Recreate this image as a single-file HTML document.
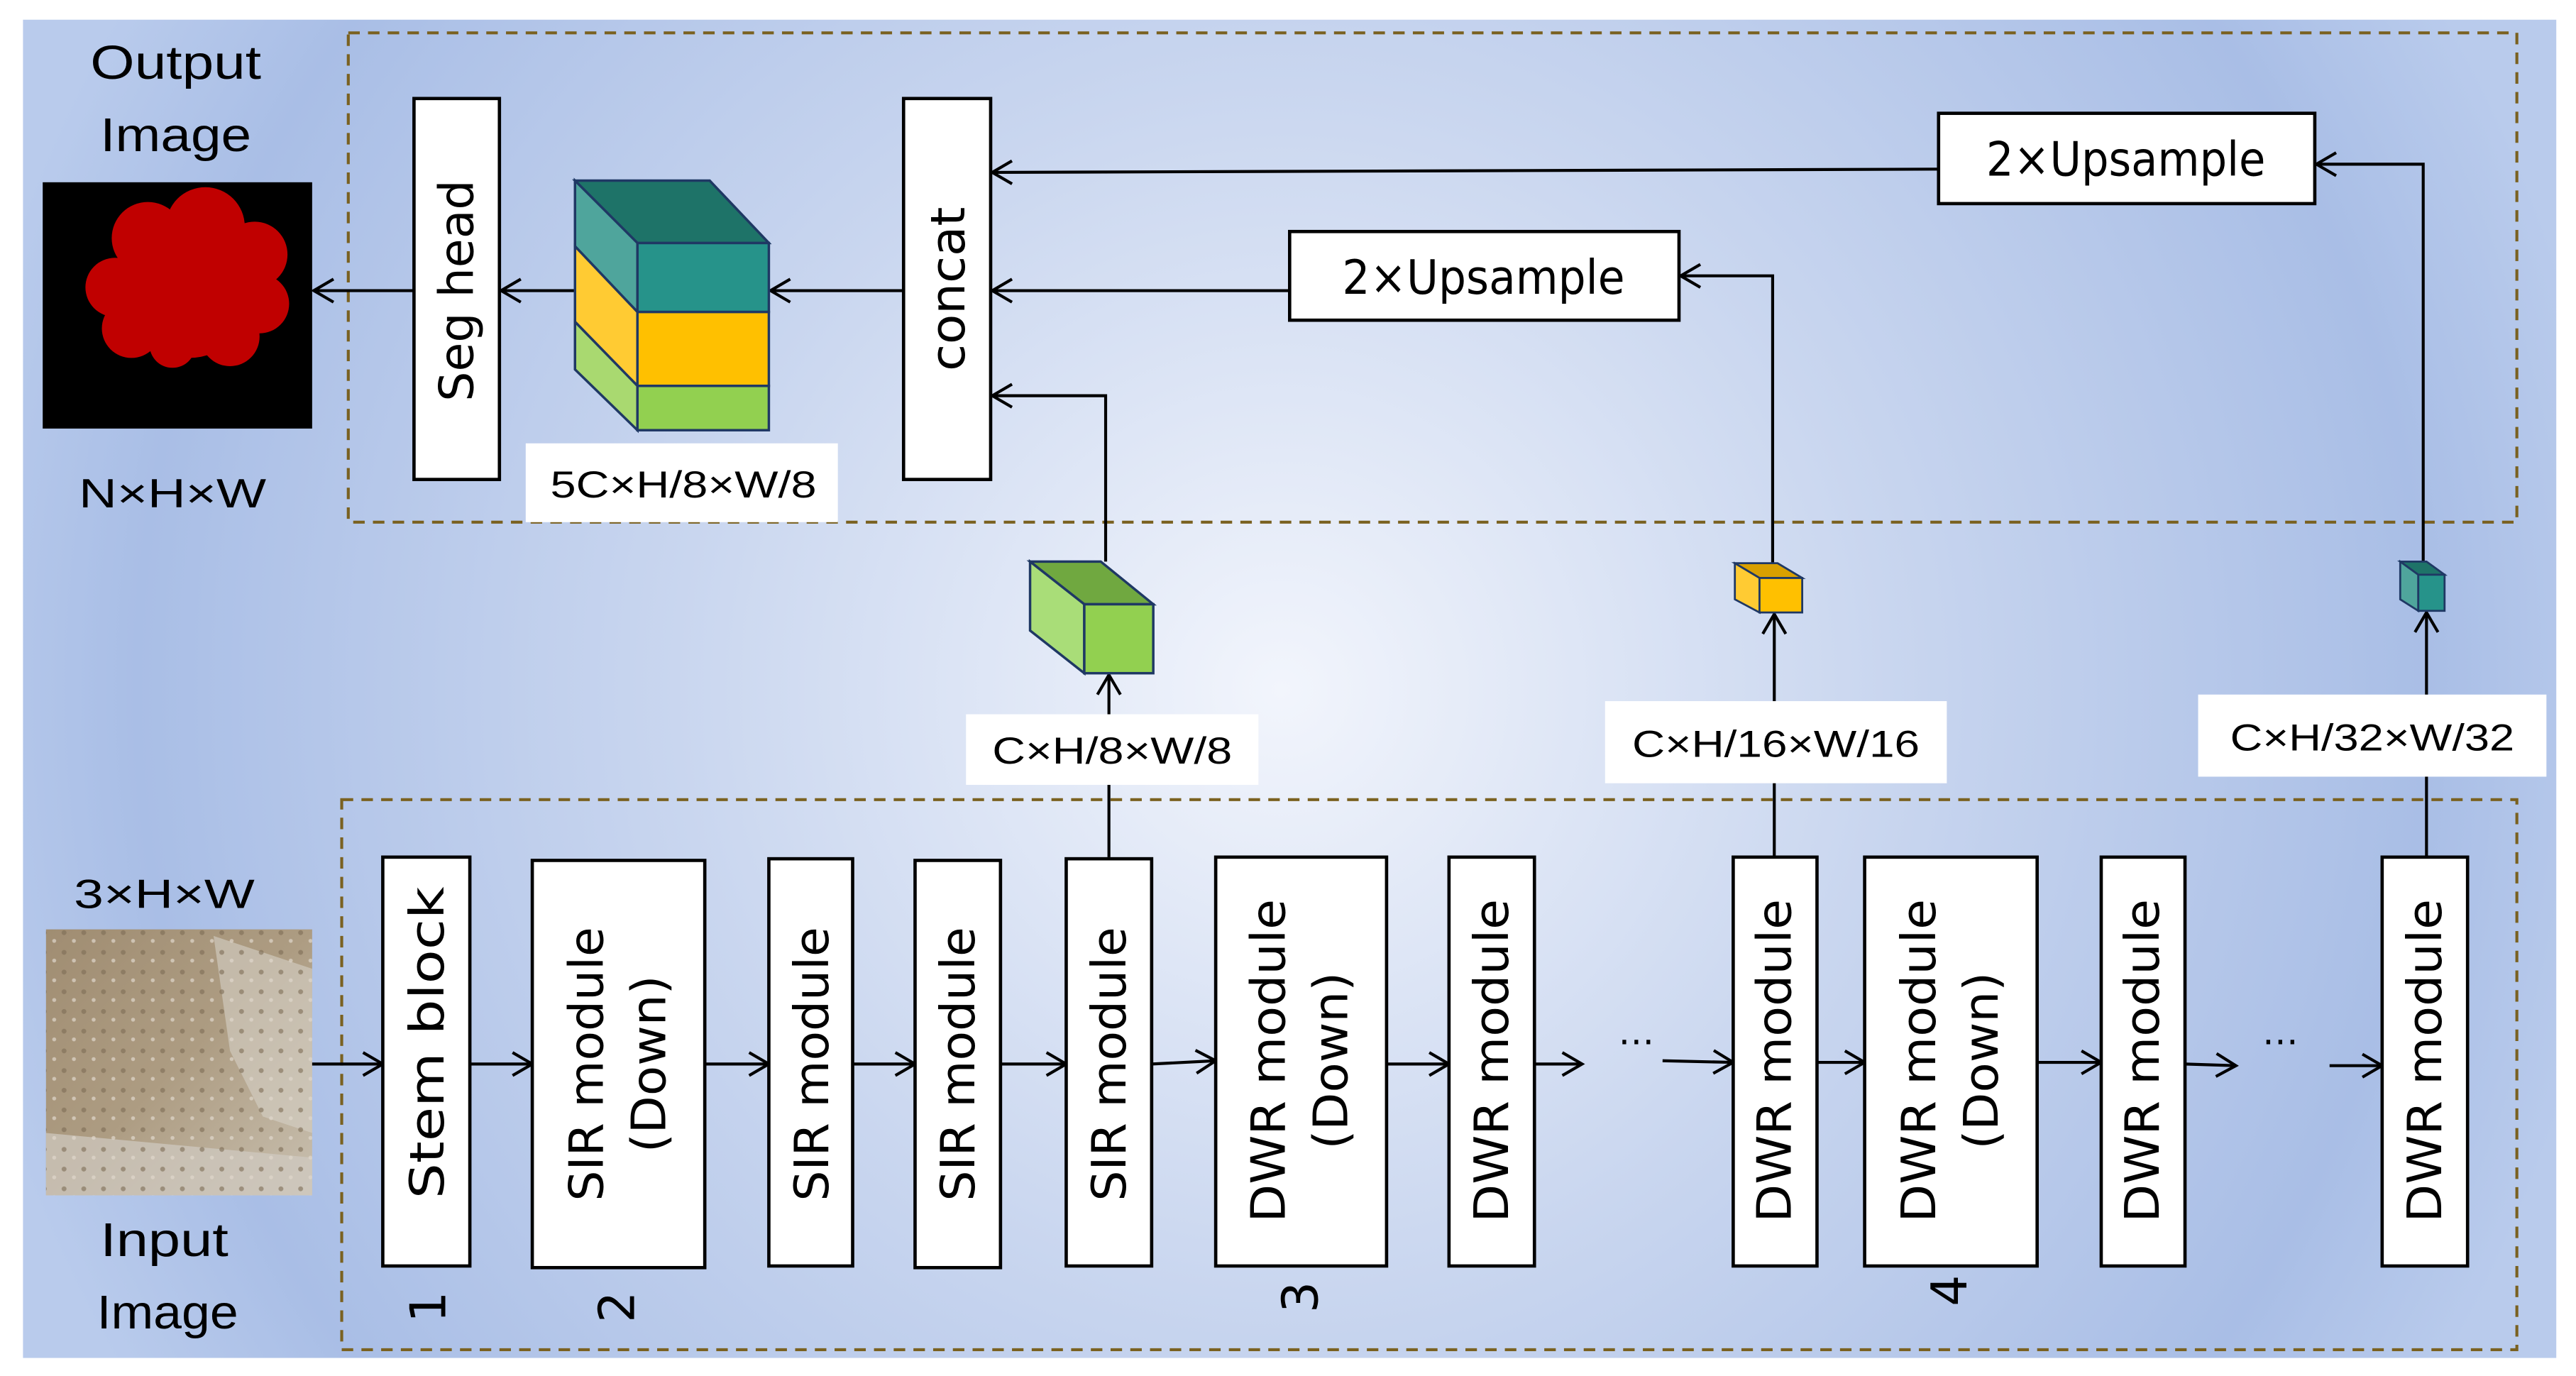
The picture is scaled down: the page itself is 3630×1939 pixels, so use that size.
<!DOCTYPE html>
<html><head><meta charset="utf-8"><style>html,body{margin:0;padding:0;background:#fff}svg{display:block}</style></head>
<body>
<svg width="3630" height="1939" viewBox="0 0 1568 838" preserveAspectRatio="none" xmlns="http://www.w3.org/2000/svg">
<defs>
<radialGradient id="bg" cx="780" cy="420" r="820" gradientUnits="userSpaceOnUse">
<stop offset="0" stop-color="#f2f5fc"/><stop offset="0.45" stop-color="#c9d6ef"/><stop offset="0.85" stop-color="#a9bee6"/><stop offset="1" stop-color="#b9cbec"/></radialGradient>
<marker id="ar" markerWidth="16" markerHeight="16" refX="14" refY="8" orient="auto" markerUnits="userSpaceOnUse">
<polyline points="2,1 14,8 2,15" fill="none" stroke="#000" stroke-width="1.8"/></marker>
<linearGradient id="road" x1="0" y1="0" x2="1" y2="1"><stop offset="0" stop-color="#a08d72"/><stop offset="0.5" stop-color="#ad9c82"/><stop offset="1" stop-color="#c9c0b0"/></linearGradient>
<pattern id="spk" width="12" height="12" patternUnits="userSpaceOnUse"><circle cx="3" cy="4" r="1.5" fill="#7d6c55" opacity="0.6"/><circle cx="9" cy="9" r="1.2" fill="#e0d8cc" opacity="0.7"/></pattern>
</defs>
<rect x="0" y="0" width="1568" height="838" fill="#fff"/>
<rect x="14" y="12" width="1542" height="815" fill="url(#bg)"/>
<g fill="none" stroke="#7a6120" stroke-width="1.8" stroke-dasharray="7,5">
<rect x="212" y="20" width="1320" height="298"/>
<rect x="208" y="487" width="1324" height="335"/>
</g>
<g font-family="Liberation Sans, sans-serif" fill="#000" text-anchor="middle">
<text x="107" y="48" font-size="29" textLength="104" lengthAdjust="spacingAndGlyphs">Output</text>
<text x="107" y="92" font-size="29" textLength="92" lengthAdjust="spacingAndGlyphs">Image</text>
<text x="105" y="309" font-size="25" textLength="114" lengthAdjust="spacingAndGlyphs">N×H×W</text>
<text x="100" y="553" font-size="25" textLength="110" lengthAdjust="spacingAndGlyphs">3×H×W</text>
<text x="100" y="765" font-size="29" textLength="78" lengthAdjust="spacingAndGlyphs">Input</text>
<text x="102" y="809" font-size="29" textLength="86" lengthAdjust="spacingAndGlyphs">Image</text>
</g>
<rect x="26" y="111" width="164" height="150" fill="#000"/>
<g fill="#c00000">
<circle cx="90" cy="145" r="22"/><circle cx="125" cy="138" r="24"/><circle cx="155" cy="155" r="20"/><circle cx="70" cy="175" r="18"/><circle cx="158" cy="185" r="18"/><circle cx="80" cy="200" r="18"/><circle cx="115" cy="180" r="38"/><circle cx="140" cy="205" r="18"/><circle cx="105" cy="210" r="14"/><polygon points="100,210 112,222 108,210"/></g>
<rect x="28" y="566" width="162" height="162" fill="url(#road)"/>
<path d="M130 570 L190 590 L190 690 L160 680 L140 640 Z" fill="#d6d0c6" opacity="0.6"/>
<path d="M28 690 L190 705 L190 728 L28 728 Z" fill="#d0cbc2" opacity="0.7"/>
<rect x="28" y="566" width="162" height="162" fill="url(#spk)"/>
<g fill="none" stroke="#000" stroke-width="1.8" marker-end="url(#ar)">
<line x1="550" y1="177" x2="469" y2="177"/>
<line x1="350" y1="177" x2="305" y2="177"/>
<line x1="252" y1="177" x2="191" y2="177"/>
<line x1="1180" y1="103" x2="604" y2="105"/>
<line x1="785" y1="177" x2="604" y2="177"/>
<polyline points="1475,342 1475,100 1410,100"/>
<polyline points="1079,343 1079,168 1023,168"/>
<polyline points="673,342 673,241 604,241"/>
<line x1="675" y1="522" x2="675" y2="411"/>
<line x1="1080" y1="522" x2="1080" y2="374"/>
<line x1="1477" y1="522" x2="1477" y2="373"/>
<line x1="190" y1="648" x2="233" y2="648"/>
<line x1="286" y1="648" x2="324" y2="648"/>
<line x1="429" y1="648" x2="468" y2="648"/>
<line x1="519" y1="648" x2="557" y2="648"/>
<line x1="609" y1="648" x2="649" y2="648"/>
<line x1="701" y1="648" x2="740" y2="646"/>
<line x1="844" y1="648" x2="882" y2="648"/>
<line x1="934" y1="648" x2="963" y2="648"/>
<line x1="1012" y1="646" x2="1055" y2="647"/>
<line x1="1106" y1="647" x2="1135" y2="647"/>
<line x1="1240" y1="647" x2="1279" y2="647"/>
<line x1="1330" y1="648" x2="1361" y2="649"/>
<line x1="1418" y1="649" x2="1450" y2="649"/>
</g>
<g fill="#fff" stroke="#000" stroke-width="2">
<rect x="252" y="60" width="52" height="232"/>
<rect x="550" y="60" width="53" height="232"/>
<rect x="1180" y="69" width="229" height="55"/>
<rect x="785" y="141" width="237" height="54"/>
<rect x="233" y="522" width="53" height="249"/>
<rect x="324" y="524" width="105" height="248"/>
<rect x="468" y="523" width="51" height="248"/>
<rect x="557" y="524" width="52" height="248"/>
<rect x="649" y="523" width="52" height="248"/>
<rect x="740" y="522" width="104" height="249"/>
<rect x="882" y="522" width="52" height="249"/>
<rect x="1055" y="522" width="51" height="249"/>
<rect x="1135" y="522" width="105" height="249"/>
<rect x="1279" y="522" width="51" height="249"/>
<rect x="1450" y="522" width="52" height="249"/>
</g>
<g fill="#fff"><rect x="320" y="270" width="190" height="48"/><rect x="588" y="435" width="178" height="43"/><rect x="977" y="427" width="208" height="50"/><rect x="1338" y="423" width="212" height="50"/></g>
<g font-family="Liberation Sans, sans-serif" font-size="23" text-anchor="middle" fill="#000" lengthAdjust="spacingAndGlyphs">
<text x="416" y="303" textLength="162" lengthAdjust="spacingAndGlyphs">5C×H/8×W/8</text>
<text x="677" y="465" textLength="146" lengthAdjust="spacingAndGlyphs">C×H/8×W/8</text>
<text x="1081" y="461" textLength="175" lengthAdjust="spacingAndGlyphs">C×H/16×W/16</text>
<text x="1444" y="457" textLength="173" lengthAdjust="spacingAndGlyphs">C×H/32×W/32</text>
</g>
<g font-family="DejaVu Sans, sans-serif" font-size="29" text-anchor="middle" fill="#000">
<text x="1294" y="107" textLength="170" lengthAdjust="spacingAndGlyphs">2×Upsample</text>
<text x="903" y="179" textLength="172" lengthAdjust="spacingAndGlyphs">2×Upsample</text>
<text transform="translate(288,177) rotate(-90)" textLength="135" lengthAdjust="spacingAndGlyphs">Seg head</text>
<text transform="translate(587,176) rotate(-90)" textLength="100" lengthAdjust="spacingAndGlyphs">concat</text>
<text transform="translate(270,635) rotate(-90)" textLength="190" lengthAdjust="spacingAndGlyphs">Stem block</text>
<text transform="translate(367,648) rotate(-90)" textLength="167" lengthAdjust="spacingAndGlyphs">SIR module</text>
<text transform="translate(405,648) rotate(-90)" textLength="108" lengthAdjust="spacingAndGlyphs">(Down)</text>
<text transform="translate(504,648) rotate(-90)" textLength="167" lengthAdjust="spacingAndGlyphs">SIR module</text>
<text transform="translate(593,648) rotate(-90)" textLength="167" lengthAdjust="spacingAndGlyphs">SIR module</text>
<text transform="translate(685,648) rotate(-90)" textLength="167" lengthAdjust="spacingAndGlyphs">SIR module</text>
<text transform="translate(782,646) rotate(-90)" textLength="197" lengthAdjust="spacingAndGlyphs">DWR module</text>
<text transform="translate(820,646) rotate(-90)" textLength="108" lengthAdjust="spacingAndGlyphs">(Down)</text>
<text transform="translate(918,646) rotate(-90)" textLength="197" lengthAdjust="spacingAndGlyphs">DWR module</text>
<text transform="translate(1090,646) rotate(-90)" textLength="197" lengthAdjust="spacingAndGlyphs">DWR module</text>
<text transform="translate(1178,646) rotate(-90)" textLength="197" lengthAdjust="spacingAndGlyphs">DWR module</text>
<text transform="translate(1216,646) rotate(-90)" textLength="108" lengthAdjust="spacingAndGlyphs">(Down)</text>
<text transform="translate(1314,646) rotate(-90)" textLength="197" lengthAdjust="spacingAndGlyphs">DWR module</text>
<text transform="translate(1486,646) rotate(-90)" textLength="197" lengthAdjust="spacingAndGlyphs">DWR module</text>
<text transform="translate(271,796) rotate(-90)" font-size="30">1</text>
<text transform="translate(386,796) rotate(-90)" font-size="30">2</text>
<text transform="translate(802,790) rotate(-90)" font-size="30">3</text>
<text transform="translate(1197,786) rotate(-90)" font-size="30">4</text>
<text x="996" y="636" font-size="22">…</text>
<text x="1388" y="636" font-size="22">…</text>
</g>
<g stroke="#1f3864" stroke-width="1.5">
<polygon points="350,110 432,110 468,148 388,148" fill="#1e7368"/>
<polygon points="350,110 388,148 388,190 350,150" fill="#4fa59c"/>
<rect x="388" y="148" width="80" height="42" fill="#26938a"/>
<polygon points="350,150 388,190 388,235 350,196" fill="#ffcb33"/>
<rect x="388" y="190" width="80" height="45" fill="#ffc000"/>
<polygon points="350,196 388,235 388,262 350,225" fill="#a9d970"/>
<rect x="388" y="235" width="80" height="27" fill="#92d050"/>
</g>
<g stroke="#1f3864" stroke-width="1.5">
<polygon points="627,342 670,342 702,368 660,368" fill="#70a840"/>
<polygon points="627,342 660,368 660,410 627,384" fill="#a9dd78"/>
<rect x="660" y="368" width="42" height="42" fill="#92d050"/>
</g>
<g stroke="#1f3864" stroke-width="1.2">
<polygon points="1056,343 1082,343 1097,352 1071,352" fill="#d9a000"/>
<polygon points="1056,343 1071,352 1071,373 1056,365" fill="#ffcb33"/>
<rect x="1071" y="352" width="26" height="21" fill="#ffc000"/>
</g>
<g stroke="#1f3864" stroke-width="1.2">
<polygon points="1461,342 1477,342 1488,350 1472,350" fill="#1e7368"/>
<polygon points="1461,342 1472,350 1472,372 1461,365" fill="#4fa59c"/>
<rect x="1472" y="350" width="16" height="22" fill="#26938a"/>
</g>
</svg>
</body></html>
